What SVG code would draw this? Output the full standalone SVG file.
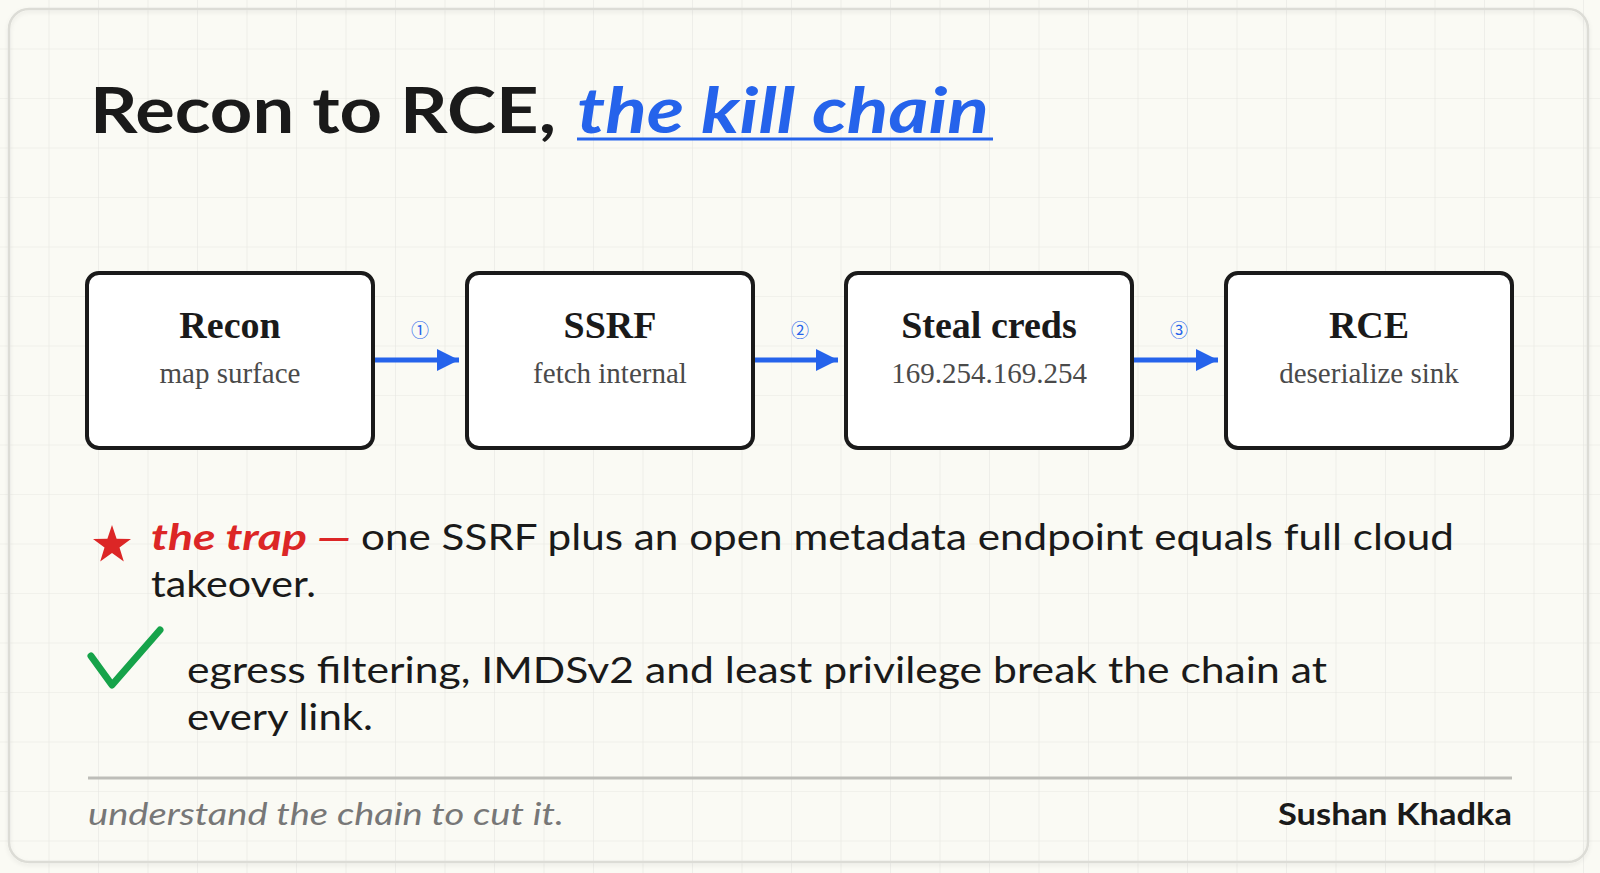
<svg xmlns="http://www.w3.org/2000/svg" width="1600" height="873" viewBox="0 0 1600 873">
  <defs>
    <pattern id="grid" x="0" y="0" width="49.5" height="49.5" patternUnits="userSpaceOnUse">
      <path d="M49.5 0 V49.5 M0 49.5 H49.5" fill="none" stroke="#e7e7e1" stroke-width="1.2"/>
    </pattern>
    <marker id="arrow" viewBox="0 0 10 10" refX="10" refY="5" markerWidth="4.4" markerHeight="4.4" markerUnits="strokeWidth" orient="auto">
      <path d="M0 0 L10 5 L0 10 Z" fill="#2563eb"/>
    </marker>
    <filter id="shadow" x="-5%" y="-5%" width="110%" height="110%">
      <feDropShadow dx="0" dy="2" stdDeviation="2" flood-color="#000" flood-opacity="0.08"/>
    </filter>
  </defs>
  <style>
    .box { fill: #ffffff; stroke: #1a1a1a; stroke-width: 4; }
    .ttl { font-family: "Liberation Serif", "Times New Roman", serif; font-weight: bold; font-size: 38px; fill: #1a1a1a; text-anchor: middle; }
    .sub { font-family: "Liberation Serif", "Times New Roman", serif; font-size: 29px; fill: #4a4a4a; text-anchor: middle; }
    .num { font-family: "Noto Sans CJK SC", "DejaVu Sans", sans-serif; font-size: 18px; fill: #2563eb; text-anchor: middle; }
    .conn { stroke: #2563eb; stroke-width: 5; fill: none; }
    .hand { font-family: "Lato", "Open Sans", sans-serif; font-size: 36px; fill: #1a1a1a; }
  </style>

  <rect width="1600" height="873" fill="#fafaf4"/>
  <rect width="1600" height="873" fill="url(#grid)"/>
  <rect x="9" y="9" width="1579" height="853" rx="20" fill="none" stroke="#dcdcd6" stroke-width="2.5" filter="url(#shadow)"/>

  <g id="title">
    <text x="90" y="133" font-family="Lato, 'Open Sans', sans-serif" font-weight="bold" font-size="64" fill="#1a1a1a" textLength="466" lengthAdjust="spacingAndGlyphs">Recon to RCE,</text>
    <text x="577" y="133" font-family="Lato, 'Open Sans', sans-serif" font-weight="bold" font-style="italic" font-size="64" fill="#2563eb" textLength="412" lengthAdjust="spacingAndGlyphs">the kill chain</text>
    <line x1="577" y1="139" x2="993" y2="139" stroke="#2563eb" stroke-width="3"/>
  </g>

  <g id="node-recon">
    <rect class="box" x="87" y="273" width="286" height="175" rx="12"/>
    <text class="ttl" x="230" y="338">Recon</text>
    <text class="sub" x="230" y="383">map surface</text>
  </g>
  <g id="node-ssrf">
    <rect class="box" x="467" y="273" width="286" height="175" rx="12"/>
    <text class="ttl" x="610" y="338">SSRF</text>
    <text class="sub" x="610" y="383">fetch internal</text>
  </g>
  <g id="node-creds">
    <rect class="box" x="846" y="273" width="286" height="175" rx="12"/>
    <text class="ttl" x="989" y="338">Steal creds</text>
    <text class="sub" x="989" y="383">169.254.169.254</text>
  </g>
  <g id="node-rce">
    <rect class="box" x="1226" y="273" width="286" height="175" rx="12"/>
    <text class="ttl" x="1369" y="338">RCE</text>
    <text class="sub" x="1369" y="383">deserialize sink</text>
  </g>

  <g id="connectors">
    <line class="conn" x1="375" y1="360" x2="459" y2="360" marker-end="url(#arrow)"/>
    <text class="num" x="420" y="337">①</text>
    <line class="conn" x1="755" y1="360" x2="838" y2="360" marker-end="url(#arrow)"/>
    <text class="num" x="800" y="337">②</text>
    <line class="conn" x1="1134" y1="360" x2="1218" y2="360" marker-end="url(#arrow)"/>
    <text class="num" x="1179" y="337">③</text>
  </g>

  <g id="bullet-trap">
    <polygon points="112,525 116.6,538.7 131,538.9 119.5,547.6 123.8,561.4 112,553 100.2,561.4 104.5,547.6 93,538.9 107.4,538.7" fill="#dc2626"/>
    <text class="hand" x="151" y="550" font-weight="bold" font-style="italic" textLength="200" lengthAdjust="spacingAndGlyphs" style="fill:#dc2626">the trap —</text>
    <text class="hand" x="361" y="550" textLength="1093" lengthAdjust="spacingAndGlyphs">one SSRF plus an open metadata endpoint equals full cloud</text>
    <text class="hand" x="151" y="597" textLength="165" lengthAdjust="spacingAndGlyphs">takeover.</text>
  </g>

  <g id="bullet-fix">
    <path d="M91 656 L112 685 L160 630" fill="none" stroke="#16a34a" stroke-width="7" stroke-linecap="round" stroke-linejoin="round"/>
    <text class="hand" x="187" y="683" textLength="1140" lengthAdjust="spacingAndGlyphs">egress filtering, IMDSv2 and least privilege break the chain at</text>
    <text class="hand" x="187" y="730" textLength="186" lengthAdjust="spacingAndGlyphs">every link.</text>
  </g>

  <g id="footer">
    <line x1="88" y1="778" x2="1512" y2="778" stroke="#bdbdb8" stroke-width="3"/>
    <text x="88" y="825" font-family="Lato, 'Open Sans', sans-serif" font-style="italic" font-size="31" fill="#777777" textLength="476" lengthAdjust="spacingAndGlyphs">understand the chain to cut it.</text>
    <text x="1512" y="825" font-family="Lato, 'Open Sans', sans-serif" font-weight="bold" font-size="31" fill="#1a1a1a" text-anchor="end" textLength="234" lengthAdjust="spacingAndGlyphs">Sushan Khadka</text>
  </g>
</svg>
